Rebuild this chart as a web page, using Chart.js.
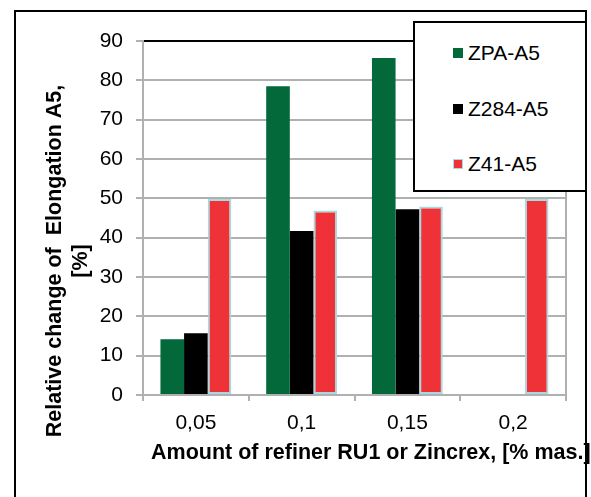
<!DOCTYPE html>
<html lang="en">
<head>
  <meta charset="UTF-8" />
  <title>Relative change of Elongation A5</title>
  <script src="https://cdn.jsdelivr.net/npm/chart.js"></script>
  <style>
    body {
      margin: 0;
      background: #fff;
      font-family: 'Liberation Sans', Arial, sans-serif;
    }
    .wrap {
      position: relative;
      width: 591px;
      height: 497px;
      overflow: hidden;
    }
    #legend {
      position: absolute;
      left: 413px;
      top: 21px;
      width: 170px;
      height: 167px;
      border: 2px solid #000;
      background: #fff;
    }
    .item {
      position: absolute;
      left: 38px;
      font-size: 21px;
      line-height: 21px;
      color: #000;
    }
    .item span {
      display: inline-block;
      width: 10px;
      height: 10px;
      margin-right: 5px;
      vertical-align: 2px;
      box-sizing: border-box;
    }
  </style>
</head>
<body>
  <div class="wrap">
    <canvas id="chart" width="591" height="497"></canvas>
    <div id="legend"></div>
  </div>

  <script>
    const categories = ['0,05', '0,1', '0,15', '0,2'];
    const zpa = [14.2, 78.5, 85.7, null];
    const z284 = [15.7, 41.7, 47.2, null];
    const z41 = [49.8, 46.9, 47.9, 49.8];
    const seriesNames = ['ZPA-A5', 'Z284-A5', 'Z41-A5'];
    const yTicks = [0, 90, 10]; // min, max, step

    const yTitle = ['Relative change of  Elongation A5,', '[%]'];
    const xTitle = 'Amount of refiner RU1 or Zincrex, [% mas.]';

    const fontFamily = "'Liberation Sans', Arial, sans-serif";
    const gridGray = '#b0b0b0';

    const colors = [
      { fill: '#03693a', border: '#03693a', bw: 0 },
      { fill: '#000000', border: '#000000', bw: 0 },
      { fill: '#ee3238', border: '#a9d9e0', bw: 2 }
    ];

    // frame, plot edges and axis titles
    const decorations = {
      id: 'decorations',
      beforeDatasetsDraw(chart) {
        const { ctx, chartArea: a } = chart;
        ctx.save();
        ctx.strokeStyle = gridGray;
        ctx.lineWidth = 2;
        ctx.beginPath();
        ctx.moveTo(a.right, a.top);
        ctx.lineTo(a.right, a.bottom);
        ctx.stroke();
        ctx.restore();
      },
      afterDraw(chart) {
        const { ctx } = chart;
        ctx.save();
        ctx.fillStyle = '#000';
        ctx.font = 'bold 21.5px ' + fontFamily;
        ctx.textBaseline = 'middle';

        ctx.textAlign = 'left';
        ctx.fillText(xTitle, 151, 453);

        ctx.textAlign = 'center';
        [55, 81].forEach((x, i) => {
          ctx.save();
          ctx.translate(x, 261);
          ctx.rotate(-Math.PI / 2);
          ctx.fillText(yTitle[i], 0, 0);
          ctx.restore();
        });

        ctx.strokeStyle = '#000';
        ctx.lineWidth = 2;
        ctx.strokeRect(15, 11, 571, 520);
        ctx.restore();
      }
    };

    const chart = new Chart(document.getElementById('chart'), {
      type: 'bar',
      data: {
        labels: categories,
        datasets: [zpa, z284, z41].map((d, i) => ({
          label: seriesNames[i],
          data: d,
          backgroundColor: colors[i].fill,
          borderColor: colors[i].border,
          borderWidth: colors[i].bw,
          borderSkipped: false,
          categoryPercentage: 0.67,
          barPercentage: 1
        }))
      },
      options: {
        responsive: false,
        animation: false,
        layout: { padding: { top: 41, right: 25, left: 0, bottom: 0 } },
        plugins: {
          legend: { display: false },
          tooltip: { enabled: false }
        },
        scales: {
          x: {
            afterFit: s => { s.height = 102; },
            grid: {
              drawOnChartArea: false,
              offset: true,
              tickLength: 6,
              color: gridGray,
              lineWidth: 2
            },
            border: { color: gridGray, width: 2 },
            ticks: {
              color: '#000',
              padding: 10,
              font: { family: fontFamily, size: 21 }
            }
          },
          y: {
            min: yTicks[0],
            max: yTicks[1],
            afterFit: s => { s.width = 143; },
            grid: {
              color: c => (c.tick && c.tick.value === yTicks[1]) ? '#000' : gridGray,
              tickColor: gridGray,
              lineWidth: 2,
              tickLength: 7
            },
            border: { color: gridGray, width: 2 },
            ticks: {
              stepSize: yTicks[2],
              color: '#000',
              padding: 13,
              font: { family: fontFamily, size: 21 }
            }
          }
        }
      },
      plugins: [decorations]
    });

    // legend box
    const legend = document.getElementById('legend');
    const itemTops = [19, 75, 130];
    seriesNames.forEach((name, i) => {
      const div = document.createElement('div');
      div.className = 'item';
      div.style.top = itemTops[i] + 'px';
      const sw = document.createElement('span');
      sw.style.background = colors[i].fill;
      if (colors[i].bw) sw.style.border = '1.5px solid ' + colors[i].border;
      div.appendChild(sw);
      div.appendChild(document.createTextNode(name));
      legend.appendChild(div);
    });
  </script>
</body>
</html>
